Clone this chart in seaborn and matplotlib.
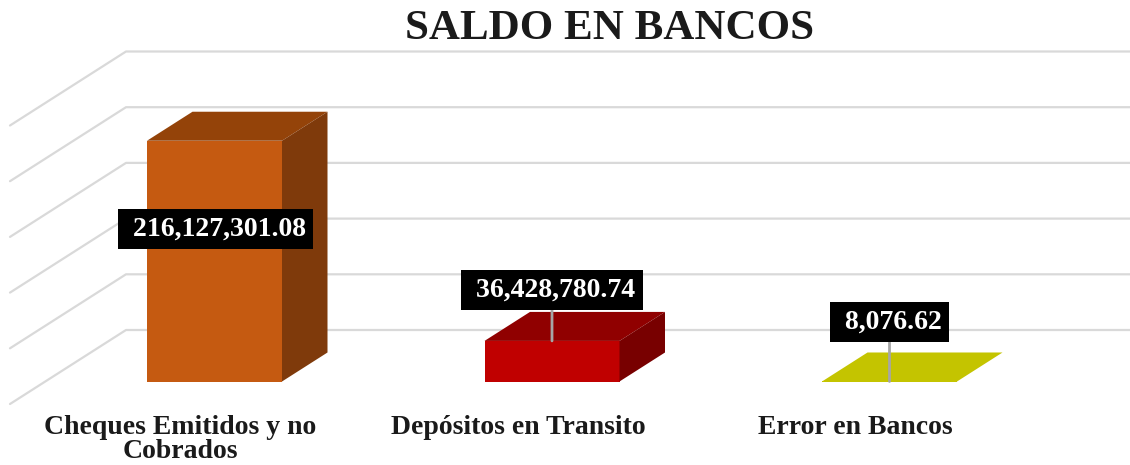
import matplotlib.pyplot as plt
import matplotlib.transforms as mtrans
from matplotlib.patches import Polygon
import seaborn as sns

categories = ["Cheques Emitidos y no\nCobrados", "Depósitos en Transito", "Error en Bancos"]
values = [216127301.08, 36428780.74, 8076.62]
value_labels = [" 216,127,301.08", " 36,428,780.74", " 8,076.62"]
grid_values = [0, 50e6, 100e6, 150e6, 200e6, 250e6]
front_colors = ["#C55A11", "#C00000", "#C4C400"]
top_colors = ["#944309", "#900000", "#C4C400"]
side_colors = ["#7F3A0B", "#780000", "#C4C400"]

W, H = 1130, 465
PX_PER_CAT = 337.5
PX_PER_VAL = 55.7 / 50e6
X0, Y0 = 214.5, 381.5  # pixel of first category, zero line
AX_TOP, AX_BOTTOM = 40, 412
BAR_W = 135 / PX_PER_CAT


# oblique depth, given in pixels, returned in data units
def depth(dx, dy):
    return dx / PX_PER_CAT, dy / PX_PER_VAL


sns.set_theme(style="white")
plt.rcParams["font.family"] = ["Liberation Serif", "DejaVu Serif"]

fig = plt.figure(figsize=(W / 100, H / 100), dpi=100)
ax = fig.add_axes([0, 1 - AX_BOTTOM / H, 1, (AX_BOTTOM - AX_TOP) / H])

sns.barplot(x=categories, y=values, hue=categories, palette=front_colors, saturation=1,
            width=BAR_W, legend=False, ax=ax, zorder=3, linewidth=0)

ax.set_xlim(-X0 / PX_PER_CAT, (W - X0) / PX_PER_CAT)
ax.set_ylim((Y0 - AX_BOTTOM) / PX_PER_VAL, (Y0 - AX_TOP) / PX_PER_VAL)

# back wall and side wall
bx, by = depth(126 - X0, 51.5)
fx, fy = depth(10 - X0, -22.5)
for g in grid_values:
    ax.plot([fx, bx, 10], [g + fy, g + by, g + by], color="#D9D9D9", lw=1.6, zorder=1, clip_on=False)

# bar faces, top and side
dx, dy = depth(45.5, 29)
for i, v in enumerate(values):
    l, r = i - BAR_W / 2, i + BAR_W / 2
    ax.add_patch(Polygon([(l, v), (r, v), (r + dx, v + dy), (l + dx, v + dy)], fc=top_colors[i], ec="none", zorder=4))
    ax.add_patch(Polygon([(r, 0), (r + dx, dy), (r + dx, v + dy), (r, v)], fc=side_colors[i], ec="none", zorder=4))

# data labels, offsets in pixels from the top of the bar
label_offsets = [(1, -88.5), (0, 51), (0, 59)]
for i, v in enumerate(values):
    ox, oy = label_offsets[i]
    arrow = None if i == 0 else dict(arrowstyle="-", color="#A6A6A6", lw=2, shrinkA=0, shrinkB=0)
    ax.annotate(value_labels[i], xy=(i, v), xytext=(ox * 0.72, oy * 0.72), textcoords="offset points",
                ha="center", va="center", color="white", fontsize=20, fontweight="bold",
                bbox=dict(boxstyle="square,pad=0.27", fc="black", ec="none"), arrowprops=arrow, zorder=6)

sns.despine(ax=ax, left=True, bottom=True)
ax.set_yticks([])
ax.set_xticks(range(3))
ax.set_xticklabels(categories, fontsize=20, fontweight="bold", color="#1A1A1A", linespacing=0.92)
ax.tick_params(axis="x", length=0, pad=2.5)
shift = mtrans.ScaledTranslation(-34 / 100, 0, fig.dpi_scale_trans)
for t in ax.get_xticklabels():
    t.set_transform(t.get_transform() + shift)
ax.grid(False)
ax.patch.set_alpha(0)

fig.text(610 / W, 1 - 39 / H, "SALDO EN BANCOS", ha="center", va="baseline", fontsize=31, fontweight="bold", color="#1A1A1A")

fig.savefig("out.png", dpi=100)
